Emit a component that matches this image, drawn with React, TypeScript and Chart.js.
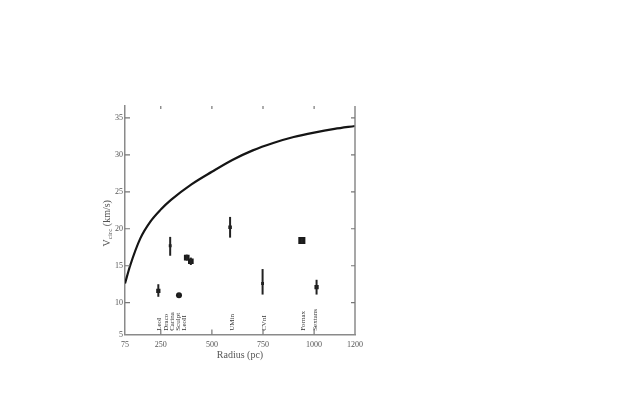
import React, { useEffect, useRef } from "react";
import { Chart, registerables } from "chart.js";

Chart.register(...registerables);

// Galaxy data
const galaxies = ["LeoI", "Draco", "Carina", "Sculpt", "LeoII", "UMin", "CVnI", "Fornax", "Sextans"];
const radius = [238, 296, 339, 377, 397, 589, 748, 940, 1012];
const vcirc = [11.6, 17.7, 11.0, 16.1, 15.6, 20.2, 12.6, 18.4, 12.1];
const errHigh = [12.5, 18.9, 11.3, 16.5, 16.1, 21.6, 14.55, 18.7, 13.1];
const errLow = [10.8, 16.35, 10.7, 15.7, 15.1, 18.8, 11.1, 18.1, 11.1];
const markerStyle = ["rect", "rect", "circle", "rect", "rect", "rect", "rect", "rect", "rect"];
const markerRadius = [3, 2, 3, 4, 4, 2.5, 2, 5, 3];
const labelRadius = [240, 275, 304, 334, 363, 599, 756, 947, 1006];
const labelV = 6.2;

// Model curve
const curveR = [75, 100, 150, 200, 250, 300, 400, 500, 600, 700, 800, 900, 1000, 1100, 1200];
const curveV = [12.6, 15.0, 18.7, 21.0, 22.6, 23.9, 26.0, 27.7, 29.3, 30.6, 31.6, 32.4, 33.0, 33.5, 33.9];

// Axes
const xTickValues = [75, 250, 500, 750, 1000, 1200];
const xTickLabels = ["75", "250", "500", "750", "1000", "1200"];
const yTickValues = [5, 10, 15, 20, 25, 30, 35];
const yTickLabels = ["5", "10", "15", "20", "25", "30", "35"];
const xMin = 75, xMax = 1200, yMin = 5.7, yMax = 36.6;

const FONT = "'Liberation Serif', 'DejaVu Serif', serif";
const TEXT = "#555";
const AXIS = "#8a8a8a";

const decorPlugin = {
  id: "decor",
  afterDatasetsDraw(chart: any) {
    const ctx = chart.ctx;
    const xs = chart.scales.x, ys = chart.scales.y;
    const a = chart.chartArea;
    ctx.save();
    // error bars
    ctx.strokeStyle = "#222";
    ctx.lineWidth = 2;
    for (let i = 0; i < radius.length; i++) {
      const px = xs.getPixelForValue(radius[i]);
      ctx.beginPath();
      ctx.moveTo(px, ys.getPixelForValue(errLow[i]));
      ctx.lineTo(px, ys.getPixelForValue(errHigh[i]));
      ctx.stroke();
    }
    // galaxy labels
    ctx.fillStyle = "#333";
    ctx.font = `7px ${FONT}`;
    ctx.textAlign = "left";
    ctx.textBaseline = "middle";
    for (let i = 0; i < galaxies.length; i++) {
      const px = xs.getPixelForValue(labelRadius[i]);
      const py = ys.getPixelForValue(labelV);
      ctx.save();
      ctx.translate(px, py);
      ctx.rotate(-Math.PI / 2);
      ctx.fillText(galaxies[i], 0, 0);
      ctx.restore();
    }
    // right border
    ctx.strokeStyle = AXIS;
    ctx.lineWidth = 1.5;
    ctx.beginPath();
    ctx.moveTo(a.right, a.top);
    ctx.lineTo(a.right, a.bottom);
    ctx.stroke();
    // inward ticks
    ctx.lineWidth = 1.2;
    ctx.strokeStyle = "#777";
    for (const v of yTickValues) {
      if (v <= yMin || v >= yMax) continue;
      const py = ys.getPixelForValue(v);
      ctx.beginPath();
      ctx.moveTo(a.left, py);
      ctx.lineTo(a.left + 5, py);
      ctx.moveTo(a.right, py);
      ctx.lineTo(a.right - 4, py);
      ctx.stroke();
    }
    for (const v of xTickValues) {
      if (v <= xMin || v >= xMax) continue;
      const px = xs.getPixelForValue(v);
      ctx.beginPath();
      ctx.moveTo(px, a.bottom);
      ctx.lineTo(px, a.bottom - 5);
      ctx.moveTo(px, a.top);
      ctx.lineTo(px, a.top + 3);
      ctx.stroke();
    }
    // axis titles
    ctx.fillStyle = TEXT;
    ctx.textBaseline = "middle";
    ctx.textAlign = "center";
    ctx.font = `10px ${FONT}`;
    ctx.fillText("Radius (pc)", (a.left + a.right) / 2 + 0, a.bottom + 21);
    // y title with subscript
    const big = `10px ${FONT}`, small = `7px ${FONT}`;
    ctx.font = big;
    const wV = ctx.measureText("V").width;
    const wRest = ctx.measureText(" (km/s)").width;
    ctx.font = small;
    const wSub = ctx.measureText("circ").width;
    const total = wV + wSub + wRest;
    ctx.save();
    ctx.translate(a.left - 18, (a.top + a.bottom) / 2 + 3);
    ctx.rotate(-Math.PI / 2);
    ctx.textAlign = "left";
    let x = -total / 2;
    ctx.font = big;
    ctx.fillText("V", x, 0);
    x += wV;
    ctx.font = small;
    ctx.fillText("circ", x, 3);
    x += wSub;
    ctx.font = big;
    ctx.fillText(" (km/s)", x, 0);
    ctx.restore();
    ctx.restore();
  },
};

export default function App() {
  const ref = useRef<HTMLCanvasElement>(null);
  useEffect(() => {
    const canvas = ref.current;
    if (!canvas) return;
    const chart = new Chart(canvas, {
      type: "scatter",
      data: {
        datasets: [
          {
            type: "line",
            data: curveR.map((r, i) => ({ x: r, y: curveV[i] })),
            borderColor: "#151515",
            borderWidth: 2.2,
            pointRadius: 0,
            cubicInterpolationMode: "monotone",
            fill: false,
          } as any,
          {
            type: "scatter",
            data: radius.map((r, i) => ({ x: r, y: vcirc[i] })),
            backgroundColor: "#1a1a1a",
            borderColor: "#1a1a1a",
            borderWidth: 0,
            pointStyle: markerStyle as any,
            pointRadius: markerRadius,
          } as any,
        ],
      },
      options: {
        responsive: false,
        animation: false,
        layout: { padding: { left: 100, right: 286, top: 106, bottom: 0 } },
        plugins: { legend: { display: false }, tooltip: { enabled: false } },
        scales: {
          x: {
            type: "linear",
            min: xMin,
            max: xMax,
            afterFit: (s: any) => { s.height = 70.5; },
            afterBuildTicks: (s: any) => { s.ticks = xTickValues.map((v) => ({ value: v })); },
            grid: { display: false, drawTicks: false },
            border: { display: true, color: AXIS, width: 1.5 },
            ticks: {
              padding: 6,
              color: TEXT,
              font: { family: FONT, size: 8 },
              maxRotation: 0,
              autoSkip: false,
              callback: (_v: any, i: number) => xTickLabels[i],
            },
          },
          y: {
            type: "linear",
            min: yMin,
            max: yMax,
            afterFit: (s: any) => { s.width = 25; },
            afterBuildTicks: (s: any) => { s.ticks = yTickValues.map((v) => ({ value: Math.max(v, yMin) })); },
            grid: { display: false, drawTicks: false },
            border: { display: true, color: AXIS, width: 1.5 },
            ticks: {
              padding: 2,
              color: TEXT,
              font: { family: FONT, size: 8 },
              autoSkip: false,
              callback: (_v: any, i: number) => yTickLabels[i],
            },
          },
        },
      },
      plugins: [decorPlugin],
    });
    return () => chart.destroy();
  }, []);
  return (
    <div style={{ position: "absolute", left: 0, top: 0, width: 641, height: 405, background: "#fff" }}>
      <canvas ref={ref} width={641} height={405} style={{ width: 641, height: 405 }} />
    </div>
  );
}
